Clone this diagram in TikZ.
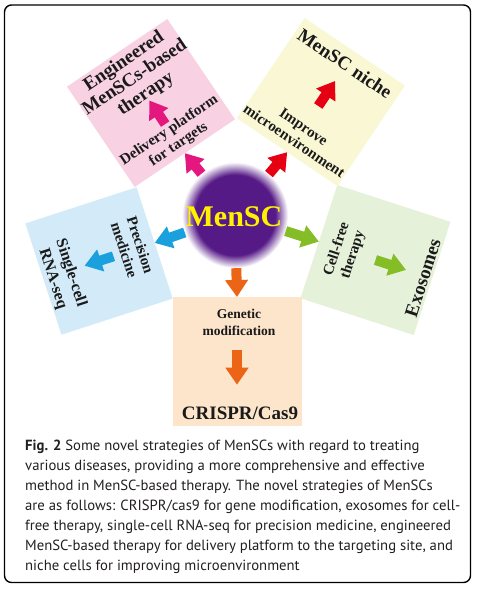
\documentclass[tikz,border=0pt]{standalone}
\usepackage{fontspec}
\setmainfont{Liberation Serif}
\newfontfamily\capfont{PT Sans}
\usetikzlibrary{arrows.meta,calc}
\definecolor{pinkbox}{HTML}{F8D2E3}
\definecolor{yellowbox}{HTML}{FAF8D4}
\definecolor{bluebox}{HTML}{D3EAF8}
\definecolor{greenbox}{HTML}{E6F1D9}
\definecolor{orangebox}{HTML}{FCE5CB}
\definecolor{pinkA}{HTML}{E3177D}
\definecolor{redA}{HTML}{E50012}
\definecolor{blueA}{HTML}{1AA0DD}
\definecolor{greenA}{HTML}{84BD26}
\definecolor{orangeA}{HTML}{EC6517}
\definecolor{mpurple}{HTML}{561A87}
\definecolor{menscyellow}{HTML}{FFF100}
\definecolor{txt}{HTML}{1A1A1A}
\definecolor{capgray}{HTML}{231F20}
\pgfdeclareradialshading{menscshade}{\pgfpoint{0bp}{0bp}}{color(0bp)=(mpurple); color(19bp)=(mpurple); color(25bp)=(white); color(50bp)=(white)}
\begin{document}
\begin{tikzpicture}[x=1pt,y=1pt,
  sq/.style={minimum size=#1, inner sep=0pt, outer sep=0pt, draw=none},
  lbl/.style={font=\bfseries\fontsize{15}{17}\selectfont, align=center, inner sep=0pt, text=txt},
  mainlbl/.style={font=\bfseries\fontsize{19}{19.5}\selectfont, align=center, inner sep=0pt, text=txt},
  blk/.style={line width=10pt, -{Triangle[width=22pt,length=17pt]}},
]
\useasboundingbox (0,0) rectangle (477,-589);
\fill[white] (0,0) rectangle (477,-589);
\draw[line width=1.4pt, rounded corners=7pt] (4.5,-5) rectangle (470.5,-582.5);

% boxes
\node[sq=129, fill=orangebox] (bB) at (237,-361.5) {};
\node[sq=119, fill=greenbox, rotate=72] (bR) at (375.5,-260) {};
\node[sq=121, fill=yellowbox, rotate=146] (bTR) at (321,-102) {};
\node[sq=121, fill=pinkbox, rotate=214] (bTL) at (151,-103) {};
\node[sq=117, fill=bluebox, rotate=288] (bL) at (99,-261) {};

% centre
\node[circle, minimum size=106pt, inner sep=0pt, shade, shading=menscshade] (core) at (235,-215) {};
\node[text=menscyellow, font=\bfseries\fontsize{30}{30}\selectfont, inner sep=0pt] (coretext) at (234,-217) {MenSC};

% arrows from centre
\draw[blk, orangeA] (core) -- (bB.north);
\draw[blk, greenA] (core) -- (bR.north);
\draw[blk, redA] (core) -- (bTR.north);
\draw[blk, pinkA] (core) -- (bTL.north);
\draw[blk, blueA] (core) -- (bL.north);

% arrows inside boxes
\draw[blk, orangeA] ($(bB.north)!0.41!(bB.south)$) -- ($(bB.north)!0.68!(bB.south)$);
\draw[blk, greenA] ($(bR.north)!0.5!(bR.south)$) -- ($(bR.north)!0.77!(bR.south)$);
\draw[blk, redA] ($(bTR.north)!0.46!(bTR.south)$) -- ($(bTR.north)!0.71!(bTR.south)$);
\draw[blk, pinkA] ($(bTL.north)!0.29!(bTL.south)$) -- ($(bTL.north)!0.525!(bTL.south)$);
\draw[blk, blueA] ($(bL.north)!0.37!(bL.south)$) -- ($(bL.north)!0.63!(bL.south)$);

% texts
\node[lbl, font=\bfseries\fontsize{13.5}{17}\selectfont] (tB1) at (239,-322) {Genetic\\modification};
\node[mainlbl] (tB2) at (240,-413) {CRISPR/Cas9};
\node[lbl, rotate=72] (tR1) at (345,-252) {Cell-free\\therapy};
\node[mainlbl, rotate=72] (tR2) at (423,-278) {Exosomes};
\node[lbl, rotate=-34] (tTR1) at (299,-134) {Improve\\microenvironment};
\node[mainlbl, rotate=-34] (tTR2) at (345,-63.5) {MenSC niche};
\node[lbl, rotate=34] (tTL1) at (174,-137.5) {Delivery platform\\for targets};
\node[mainlbl, rotate=34] (tTL2) at (135,-78) {Engineered\\MenSCs-based\\therapy};
\node[lbl, rotate=-72] (tL1) at (132.5,-247.6) {Precision\\medicine};
\node[mainlbl, font=\bfseries\fontsize{16}{19}\selectfont, rotate=-72] (tL2) at (61.7,-275.8) {Single-cell\\RNA-seq};

% caption
\node[anchor=north west, inner sep=0pt, align=left, text=capgray, font=\capfont\fontsize{14.7}{20}\selectfont] (cap) at (25,-440)
{\textbf{Fig. 2} Some novel strategies of MenSCs with regard to treating\\
various diseases, providing a more comprehensive and effective\\
method in MenSC-based therapy. The novel strategies of MenSCs\\
are as follows: CRISPR/cas9 for gene modification, exosomes for cell-\\
free therapy, single-cell RNA-seq for precision medicine, engineered\\
MenSC-based therapy for delivery platform to the targeting site, and\\
niche cells for improving microenvironment};
\end{tikzpicture}
\end{document}
